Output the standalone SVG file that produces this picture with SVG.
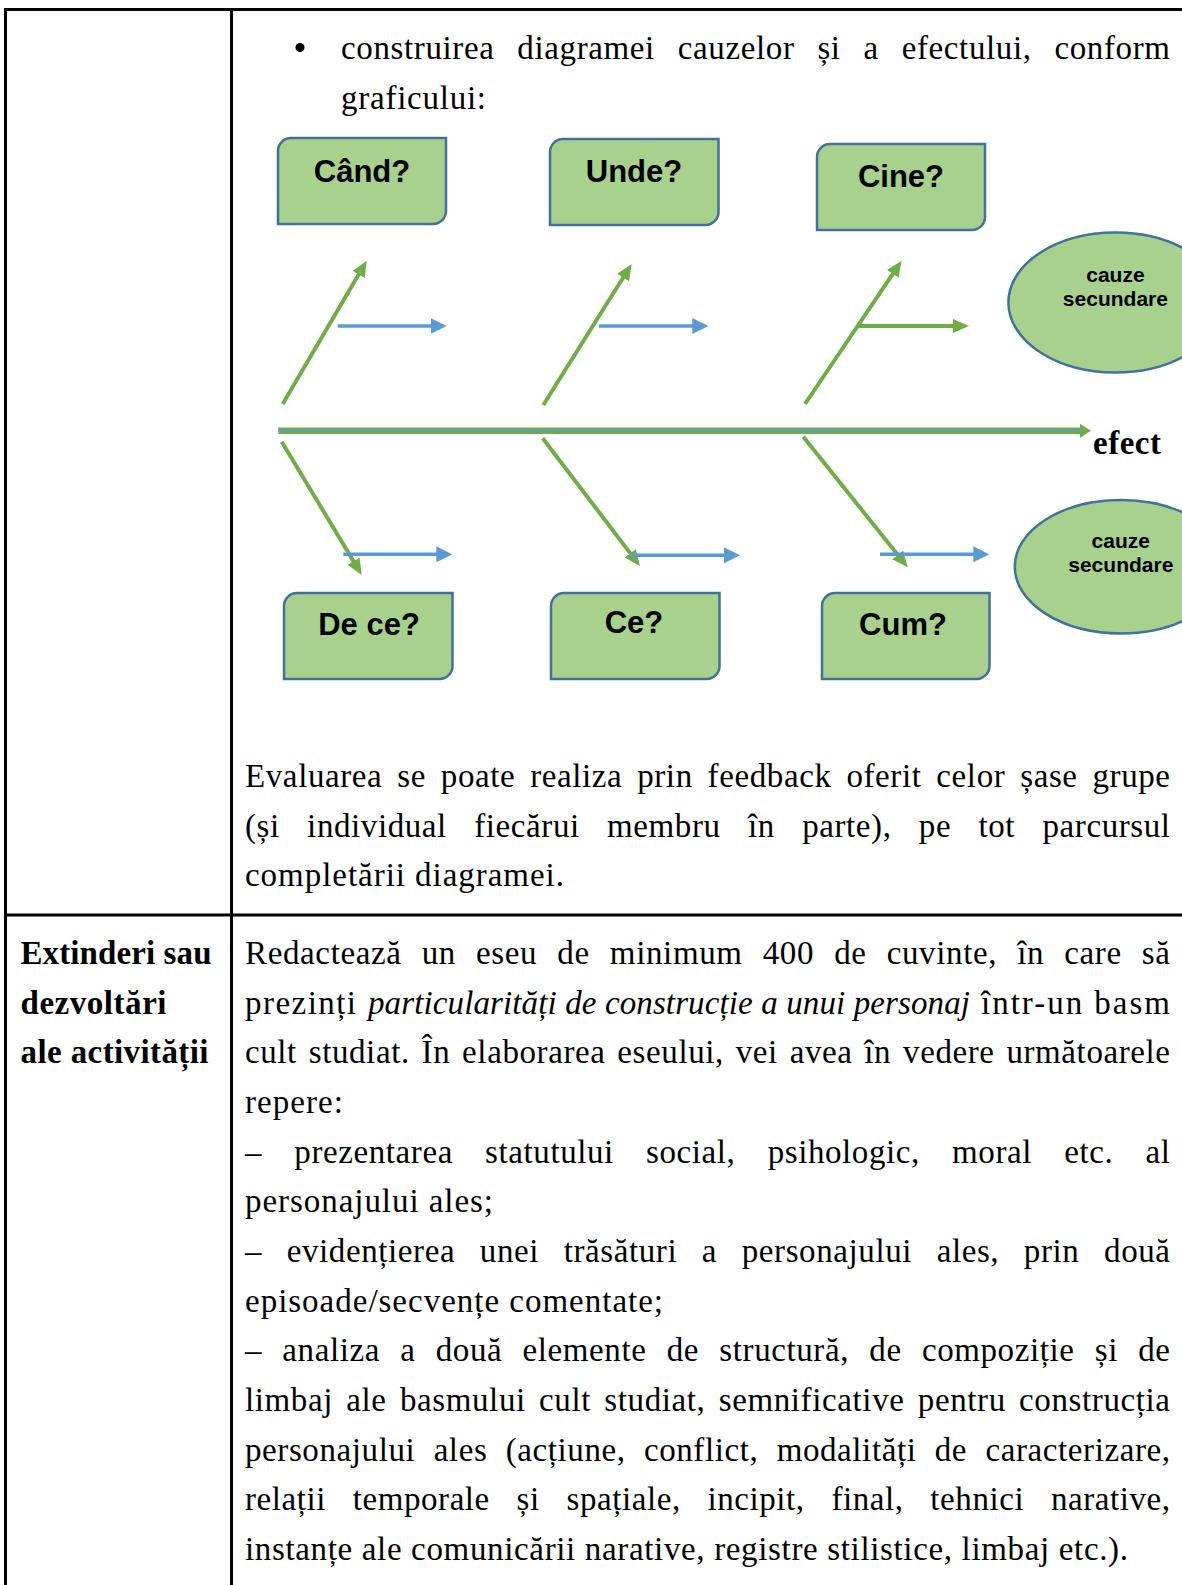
<svg xmlns="http://www.w3.org/2000/svg" width="1182" height="1585" viewBox="0 0 1182 1585">
<style>
.body{font-family:"Liberation Serif","Times New Roman",serif;font-size:33px;fill:#000}
.it{font-style:italic}
.bold{font-weight:bold}
.lbl{font-family:"Liberation Sans",Arial,sans-serif;font-weight:bold;font-size:31px;fill:#000;text-anchor:middle}
.small{font-family:"Liberation Sans",Arial,sans-serif;font-weight:bold;font-size:21px;fill:#000;text-anchor:middle}
.box{fill:#A9D18E;stroke:#41719C;stroke-width:2.5}
.grid{stroke:#000;stroke-width:3;fill:none}
.g{stroke:#70AD47;stroke-width:4;fill:none}
.b{stroke:#5B9BD5;stroke-width:3.5;fill:none}
</style>
<defs>
<marker id="ag" viewBox="0 0 16 14" refX="8" refY="7" markerWidth="16" markerHeight="14" markerUnits="userSpaceOnUse" orient="auto"><path d="M0,0 L16,7 L0,14 Z" fill="#70AD47"/></marker>
<marker id="ab" viewBox="0 0 16 16" refX="8" refY="8" markerWidth="16" markerHeight="16" markerUnits="userSpaceOnUse" orient="auto"><path d="M0,0 L16,8 L0,16 Z" fill="#5B9BD5"/></marker>
</defs>
<rect width="1182" height="1585" fill="#fff"/>
<g id="table">
<line class="grid" x1="4" y1="9.5" x2="1182" y2="9.5"/>
<line class="grid" x1="5.5" y1="8" x2="5.5" y2="1585"/>
<line class="grid" x1="231.5" y1="8" x2="231.5" y2="1585"/>
<line class="grid" x1="4" y1="915" x2="1182" y2="915"/>
</g>
<g id="text-top">
<circle cx="300" cy="47.5" r="4.5" fill="#000"/>
<text class="body" x="341" y="59" word-spacing="14" textLength="829" lengthAdjust="spacing">construirea diagramei cauzelor și a efectului, conform</text>
<text class="body" x="341" y="109" textLength="145" lengthAdjust="spacing">graficului:</text>
<text class="body" x="245" y="787" word-spacing="6" textLength="925" lengthAdjust="spacing">Evaluarea se poate realiza prin feedback oferit celor șase grupe</text>
<text class="body" x="245" y="837" word-spacing="18.5" textLength="925" lengthAdjust="spacing">(și individual fiecărui membru în parte), pe tot parcursul</text>
<text class="body" x="245" y="886" textLength="319" lengthAdjust="spacing">completării diagramei.</text>
</g>
<g id="text-bottom">
<text class="body bold" x="20.5" y="964" textLength="191" lengthAdjust="spacing">Extinderi sau</text>
<text class="body bold" x="20.5" y="1014" textLength="146" lengthAdjust="spacing">dezvoltări</text>
<text class="body bold" x="20.5" y="1063" textLength="188" lengthAdjust="spacing">ale activității</text>
<text class="body" x="245" y="964" word-spacing="11.2" textLength="925" lengthAdjust="spacing">Redactează un eseu de minimum 400 de cuvinte, în care să</text>
<text class="body" x="245" y="1014" textLength="111" lengthAdjust="spacing">prezinți</text>
<text class="body it" x="368" y="1014" textLength="602" lengthAdjust="spacing">particularități de construcție a unui personaj</text>
<text class="body" x="981" y="1014" textLength="189" lengthAdjust="spacing">într-un basm</text>
<text class="body" x="245" y="1063" word-spacing="3" textLength="925" lengthAdjust="spacing">cult studiat. În elaborarea eseului, vei avea în vedere următoarele</text>
<text class="body" x="245" y="1113" textLength="98" lengthAdjust="spacing">repere:</text>
<text class="body" x="245" y="1163" word-spacing="23.4" textLength="925" lengthAdjust="spacing">– prezentarea statutului social, psihologic, moral etc. al</text>
<text class="body" x="245" y="1212" textLength="248" lengthAdjust="spacing">personajului ales;</text>
<text class="body" x="245" y="1262" word-spacing="15.8" textLength="925" lengthAdjust="spacing">– evidențierea unei trăsături a personajului ales, prin două</text>
<text class="body" x="245" y="1312" textLength="418" lengthAdjust="spacing">episoade/secvențe comentate;</text>
<text class="body" x="245" y="1361" word-spacing="11.4" textLength="925" lengthAdjust="spacing">– analiza a două elemente de structură, de compoziție și de</text>
<text class="body" x="245" y="1411" word-spacing="4.4" textLength="925" lengthAdjust="spacing">limbaj ale basmului cult studiat, semnificative pentru construcția</text>
<text class="body" x="245" y="1461" word-spacing="9.5" textLength="925" lengthAdjust="spacing">personajului ales (acțiune, conflict, modalități de caracterizare,</text>
<text class="body" x="245" y="1510" word-spacing="18" textLength="925" lengthAdjust="spacing">relații temporale și spațiale, incipit, final, tehnici narative,</text>
<text class="body" x="245" y="1560" textLength="883" lengthAdjust="spacing">instanțe ale comunicării narative, registre stilistice, limbaj etc.).</text>
</g>
<g id="connectors">
<line class="g" x1="282.7" y1="404" x2="362.7" y2="267.6" marker-end="url(#ag)"/>
<line class="g" x1="543.3" y1="405" x2="627.4" y2="270.8" marker-end="url(#ag)"/>
<line class="g" x1="805" y1="404" x2="897.2" y2="267.3" marker-end="url(#ag)"/>
<line class="b" x1="337.7" y1="326" x2="438.7" y2="326" marker-end="url(#ab)"/>
<line class="b" x1="599" y1="326" x2="700.3" y2="326" marker-end="url(#ab)"/>
<line class="g" x1="858" y1="326" x2="961" y2="326" marker-end="url(#ag)"/>
<line class="g" x1="281.7" y1="441.7" x2="357.6" y2="568.1" marker-end="url(#ag)"/>
<line class="g" x1="542.7" y1="438.3" x2="635.1" y2="559.6" marker-end="url(#ag)"/>
<line class="g" x1="803.3" y1="436.7" x2="902.7" y2="561.1" marker-end="url(#ag)"/>
<line class="b" x1="343.3" y1="554.3" x2="444.3" y2="554.3" marker-end="url(#ab)"/>
<line class="b" x1="630" y1="555.3" x2="732" y2="555.3" marker-end="url(#ab)"/>
<line class="b" x1="880" y1="554.3" x2="981.3" y2="554.3" marker-end="url(#ab)"/>
<line x1="278.3" y1="430.8" x2="1082" y2="430.8" stroke="#70AD47" stroke-width="6.5"/>
<line x1="278.3" y1="430.8" x2="1080" y2="430.8" stroke="#5B9BD5" stroke-width="2"/>
<path d="M1080,423.8 L1091,430.8 L1080,437.8 Z" fill="#70AD47"/>
</g>
<g id="node-cand"><path class="box" d="M278,151 A13,13 0 0 1 291,138 H446 V211 A13,13 0 0 1 433,224 H278 Z"/><text class="lbl" x="362" y="182">Când?</text></g>
<g id="node-unde"><path class="box" d="M550,152 A13,13 0 0 1 563,139 H718.5 V212 A13,13 0 0 1 705.5,225 H550 Z"/><text class="lbl" x="634" y="182">Unde?</text></g>
<g id="node-cine"><path class="box" d="M817,157 A13,13 0 0 1 830,144 H985 V217 A13,13 0 0 1 972,230 H817 Z"/><text class="lbl" x="901" y="187">Cine?</text></g>
<g id="node-dece"><path class="box" d="M284,606 A13,13 0 0 1 297,593 H452.5 V666 A13,13 0 0 1 439.5,679 H284 Z"/><text class="lbl" x="369" y="635">De ce?</text></g>
<g id="node-ce"><path class="box" d="M551,606 A13,13 0 0 1 564,593 H719.5 V666 A13,13 0 0 1 706.5,679 H551 Z"/><text class="lbl" x="634" y="633">Ce?</text></g>
<g id="node-cum"><path class="box" d="M822,606 A13,13 0 0 1 835,593 H989.5 V666 A13,13 0 0 1 976.5,679 H822 Z"/><text class="lbl" x="903" y="635">Cum?</text></g>
<g id="node-cauze1"><ellipse class="box" cx="1115.4" cy="302.5" rx="107" ry="70"/><text class="small" x="1115.4" y="281.7">cauze</text><text class="small" x="1115.4" y="305.7">secundare</text></g>
<g id="node-cauze2"><ellipse class="box" cx="1120.8" cy="566.7" rx="106" ry="66.7"/><text class="small" x="1120.8" y="548.3">cauze</text><text class="small" x="1120.8" y="571.7">secundare</text></g>
<g id="node-efect"><text class="body bold" x="1093" y="454" textLength="68" lengthAdjust="spacing">efect</text></g>
</svg>
